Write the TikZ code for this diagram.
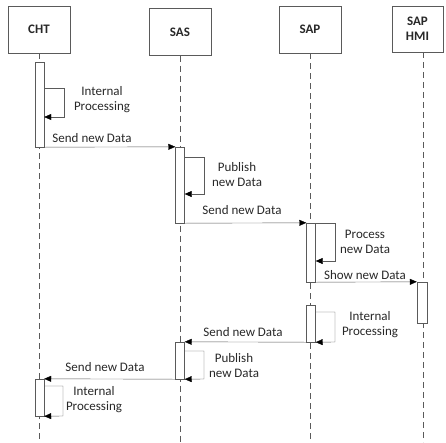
\documentclass[tikz,border=0pt]{standalone}
\usepackage{fontspec}
\setmainfont{Carlito}
\usepackage{xcolor}
\usetikzlibrary{calc,positioning,arrows.meta}
\definecolor{linegray}{RGB}{90,90,90}
\definecolor{textgray}{RGB}{40,40,40}

\begin{document}
\begin{tikzpicture}[x=1pt, y=-1pt,
  actor/.style={draw=linegray, fill=white, minimum width=62pt, minimum height=47pt, inner sep=0pt,
    font=\fontsize{13}{15}\selectfont\bfseries, text=textgray, align=center},
  act/.style={draw=linegray, fill=white, minimum width=9pt, inner sep=0pt},
  life/.style={draw=linegray, dash pattern=on 6pt off 4pt},
  msg/.style={draw=linegray, -{Triangle[length=7pt, width=6pt, color=black]}},
  lbl/.style={font=\fontsize{13}{15}\selectfont, text=textgray, align=center, inner sep=0pt},
]
\useasboundingbox (0,0) rectangle (446,442);
\def\ybot{442} % lifelines run to the bottom edge

% actors
\node[actor] (cht) at (39,29.5) {CHT};
\node[actor] (sas) at (180,32) {SAS};
\node[actor] (sap) at (310,29.5) {SAP};
\node[actor, minimum width=51pt, minimum height=46pt] (hmi) at (417.5,29) {SAP\\HMI};

% lifelines
\draw[life] (cht.south) -- (cht.south |- 0,\ybot);
\draw[life] (sas.south) -- (sas.south |- 0,\ybot);
\draw[life] (sap.south) -- (sap.south |- 0,\ybot);
\coordinate (hmitop) at (423,52);
\draw[life] (hmitop) -- (423,\ybot);

% activations
\node[act, minimum height=85pt] (c1) at (39.5,104.5) {};
\node[act, minimum height=76pt] (s1) at (180,185) {};
\node[act, minimum height=59pt] (p1) at (311,252.5) {};
\node[act, minimum height=41pt, minimum width=10pt] (h1) at (422,302.5) {};
\node[act, minimum height=37pt] (p2) at (311,323.5) {};
\node[act, minimum height=37pt] (s2) at (180,360.5) {};
\node[act, minimum height=37pt] (c2) at (39.5,397.5) {};

% self calls
\draw[msg] (c1.east |- 0,88) -| (64,117) -- (c1.east |- 0,117);
\node[lbl] (l1) at (102,100) {Internal\\Processing};

\draw[msg] (s1.east |- 0,157) -| (204,194) -- (s1.east |- 0,194);
\node[lbl] (l2) at (237,175) {Publish\\new Data};

\draw[msg] (p1.east |- 0,223) -| (335,261) -- (p1.east |- 0,261);
\node[lbl] (l3) at (365,242) {Process\\new Data};

\draw[msg] (p2.east |- 0,312) -| (335,342) -- (p2.south east);
\node[lbl] (l4) at (370,325) {Internal\\Processing};

\draw[msg] (s2.east |- 0,351) -| (204,379) -- (s2.south east);
\node[lbl] (l5) at (234,366) {Publish\\new Data};

\draw[msg] (c2.east |- 0,386) -| (63,416) -- (c2.south east);
\node[lbl] (l6) at (94,400) {Internal\\Processing};

% messages
\draw[msg] (c1.south east) -- (s1.north west);
\node[lbl] (m1) at (92,138) {Send new Data};

\draw[msg] (s1.south east) -- (p1.north west);
\node[lbl] (m2) at (242,210) {Send new Data};

\draw[msg] (p1.south east) -- (h1.north west);
\node[lbl] (m3) at (365,275) {Show new Data};

\draw[msg] (p2.south west) -- (s2.north east);
\node[lbl] (m4) at (243,332) {Send new Data};

\draw[msg] (s2.south west) -- (c2.north east);
\node[lbl] (m5) at (105,367) {Send new Data};
\end{tikzpicture}
\end{document}
